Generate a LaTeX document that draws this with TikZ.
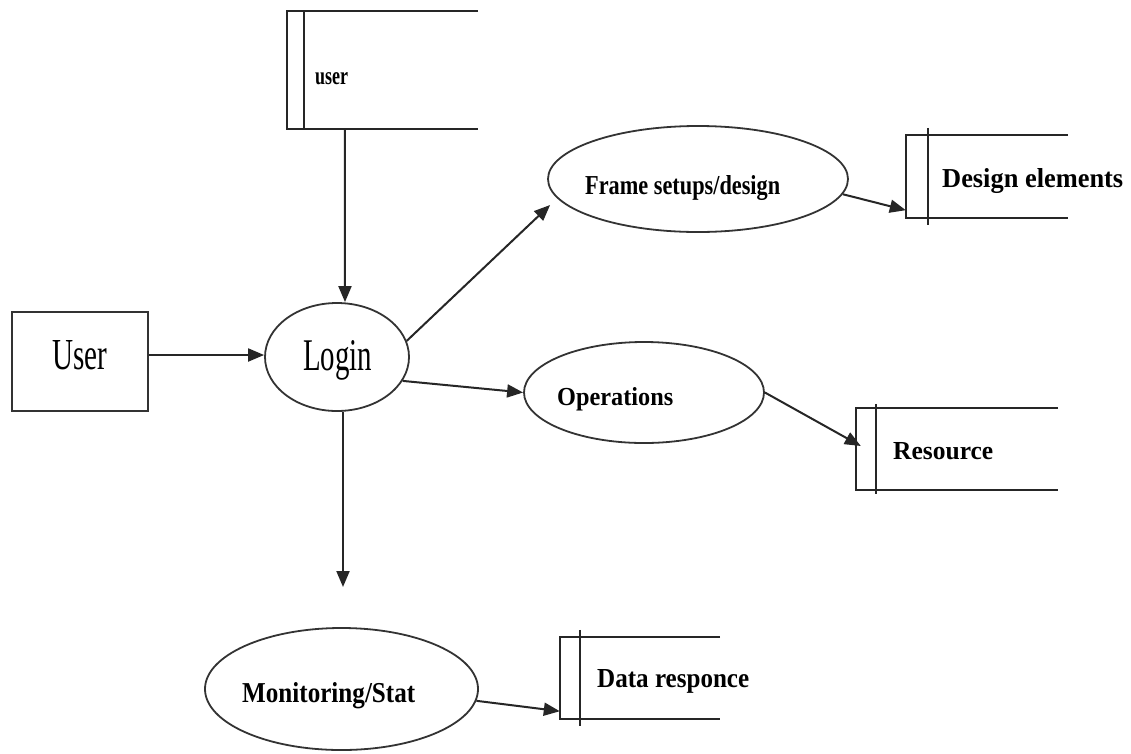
\documentclass[tikz,border=0pt]{standalone}
\usepackage{fontspec}
\setmainfont{Liberation Serif}
\usetikzlibrary{shapes.geometric,arrows.meta,calc}
\newcommand\fittext[3]{\resizebox{#1pt}{#2pt}{#3}}
\tikzset{
  line/.style={line width=2pt, draw=black!85},
  arrow/.style={line, -{Triangle[length=16pt,width=13pt]}},
  proc/.style={ellipse, draw=black!80, line width=1.8pt, inner sep=0pt},
  entity/.style={rectangle, draw=black!80, line width=1.8pt, inner sep=0pt},
  storebox/.style={rectangle, draw=none, inner sep=0pt},
  lbl/.style={inner sep=0pt, anchor=base west, text=black},
}
\newcommand\storelines[3]{%
  \draw[line] (#1.north east) -- (#1.north west) -- (#1.south west) -- (#1.south east);
  \draw[line] ($(#1.north west)+(#2,-#3)$) -- ($(#1.south west)+(#2,#3)$);}
\begin{document}
\begin{tikzpicture}[x=1pt,y=-1pt]
\useasboundingbox (0,0) rectangle (1131,753);
% data stores
\node[storebox, minimum width=191pt, minimum height=118pt] (us) at (382.5,70) {};
\storelines{us}{17}{0}
\node[lbl] (usl) at (315,84) {\fittext{33}{12}{\bfseries user}};
\node[storebox, minimum width=162pt, minimum height=83pt] (ds) at (987,176.5) {};
\storelines{ds}{22}{7}
\node[lbl] (dsl) at (942,187) {\fittext{181}{19}{\bfseries Design elements}};
\node[storebox, minimum width=202pt, minimum height=82pt] (rs) at (957,449) {};
\storelines{rs}{20}{4}
\node[lbl] (rsl) at (893,459) {\fittext{100}{17}{\bfseries Resource}};
\node[storebox, minimum width=160pt, minimum height=82pt] (dr) at (640,678) {};
\storelines{dr}{20}{7}
\node[lbl] (drl) at (597,687) {\fittext{152}{18}{\bfseries Data responce}};
% external entity
\node[entity, minimum width=136pt, minimum height=99pt] (user) at (80,361.5) {};
\node[lbl] (userl) at (52,369) {\fittext{55}{29}{User}};
% processes
\node[proc, minimum width=144pt, minimum height=108pt] (login) at (337,357) {};
\node[lbl] (loginl) at (303,370) {\fittext{69}{30}{Login}};
\node[proc, minimum width=300pt, minimum height=106pt] (frame) at (698,179) {};
\node[lbl] (framel) at (585,194) {\fittext{195}{19}{\bfseries Frame setups/design}};
\node[proc, minimum width=240pt, minimum height=101pt] (ops) at (644,392.5) {};
\node[lbl] (opsl) at (557,405) {\fittext{116}{18}{\bfseries Operations}};
\node[proc, minimum width=273pt, minimum height=122pt] (mon) at (341.5,689) {};
\node[lbl] (monl) at (242,702) {\fittext{173}{20}{\bfseries Monitoring/Stat}};
\coordinate (monin) at (343,587);
% flows
\draw[arrow] ($(us.south west)+(58,0)$) -- ($(login.north)+(8,0)$);
\draw[arrow] (user.east |- 0,355) -- (login.west |- 0,355);
\draw[arrow] (login.13) -- ($(frame.west)+(3,26)$);
\draw[arrow] (login.-20) -- (ops.west);
\draw[arrow] (frame.-6) -- ($(ds.south west)+(0,-8)$);
\draw[arrow] (ops.east) -- ($(rs.west)+(5,-3)$);
\draw[arrow] (login.south -| monin) -- (monin);
\draw[arrow] (mon.-5) -- ($(dr.south west)+(0,-8)$);
\end{tikzpicture}
\end{document}
